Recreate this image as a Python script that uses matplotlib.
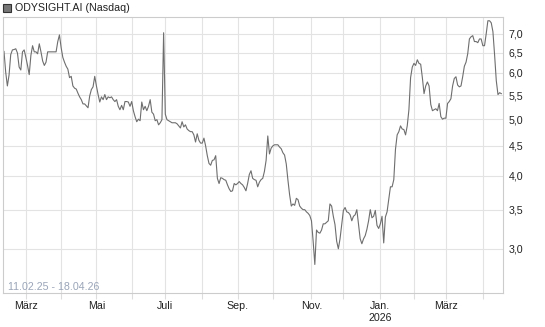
import numpy as np
import pandas as pd
import matplotlib
matplotlib.use("Agg")
import matplotlib.pyplot as plt
from matplotlib.ticker import FixedLocator, NullLocator, FuncFormatter
from matplotlib.patches import Rectangle

plt.rcParams['font.family'] = ['Liberation Sans', 'DejaVu Sans']

title = "ODYSIGHT.AI (Nasdaq)"
range_label = "11.02.25 - 18.04.26"

# Nasdaq holidays inside the range (x axis runs on trading days)
holidays = ["2025-02-17", "2025-04-18", "2025-05-26", "2025-06-19", "2025-07-04",
            "2025-09-01", "2025-11-27", "2025-12-25", "2026-01-01", "2026-01-19",
            "2026-02-16", "2026-04-03"]
month_names = {1: "Jan.", 3: "März", 5: "Mai", 7: "Juli", 9: "Sep.", 11: "Nov."}
y_ticks = [3.0, 3.5, 4.0, 4.5, 5.0, 5.5, 6.0, 6.5, 7.0]

# daily closes, one list per month
feb25 = [6.53, 6.02, 5.70, 5.95, 6.45, 6.57, 6.58, 6.60, 6.49, 6.14, 6.07, 6.52, 6.57]
mar25 = [6.38, 6.18, 5.96, 6.43, 6.68, 6.52, 6.52, 6.47, 6.73, 6.52, 6.29, 6.18, 6.26,
         6.52, 6.52, 6.52, 6.52, 6.52, 6.52, 6.79, 6.97]
apr25 = [6.63, 6.38, 6.26, 6.16, 6.09, 5.89, 5.92, 5.70, 5.65, 5.63, 5.54, 5.46, 5.40,
         5.31, 5.31, 5.27, 5.23, 5.48, 5.62, 5.68, 5.92]
may25 = [5.70, 5.51, 5.35, 5.46, 5.40, 5.51, 5.40, 5.46, 5.44, 5.46, 5.40, 5.36, 5.40,
         5.26, 5.19, 5.28, 5.19, 5.36, 5.36, 5.35, 5.26]
jun25 = [5.36, 5.17, 5.05, 4.95, 5.00, 4.97, 5.35, 5.19, 5.26, 5.17, 5.26, 5.40, 5.14,
         5.10, 4.97, 4.99, 4.89, 4.93, 4.99, 7.03]
jul25 = [5.10, 4.99, 4.97, 4.95, 4.93, 4.93, 4.93, 4.91, 4.87, 4.83, 4.95, 4.85, 4.89,
         4.81, 4.78, 4.76, 4.76, 4.70, 4.57, 4.72, 4.60, 4.55]
aug25 = [4.55, 4.64, 4.50, 4.33, 4.20, 4.17, 4.25, 4.26, 4.33, 3.96, 3.88, 3.97, 3.96,
         3.94, 3.93, 3.86, 3.80, 3.76, 3.77, 3.88, 3.86]
sep25 = [3.88, 3.91, 3.88, 3.86, 3.82, 3.77, 3.88, 4.02, 4.08, 3.96, 3.94, 3.93, 3.83,
         3.90, 3.94, 3.96, 4.07, 4.25, 4.68, 4.36, 4.46]
oct25 = [4.50, 4.52, 4.52, 4.52, 4.48, 4.45, 4.38, 4.34, 4.19, 3.93, 3.71, 3.55, 3.58,
         3.56, 3.66, 3.64, 3.55, 3.52, 3.50, 3.50, 3.47, 3.45, 3.42]
nov25 = [3.35, 3.09, 2.82, 3.23, 3.20, 3.19, 3.23, 3.31, 3.31, 3.33, 3.35, 3.58, 3.55,
         3.41, 3.30, 3.09, 3.00, 3.12, 3.30]
dec25 = [3.49, 3.53, 3.47, 3.46, 3.43, 3.35, 3.41, 3.43, 3.50, 3.31, 3.12, 3.06, 3.12,
         3.16, 3.24, 3.35, 3.50, 3.39, 3.41, 3.49, 3.29, 3.25]
jan26 = [3.31, 3.41, 3.07, 3.40, 3.47, 3.64, 3.83, 3.83, 3.94, 4.44, 4.70, 4.76, 4.87,
         4.81, 4.80, 4.70, 4.87, 5.19, 5.89, 6.14]
feb26 = [6.23, 6.18, 6.32, 6.23, 6.21, 5.89, 5.53, 5.70, 5.79, 5.70, 5.30, 5.17, 5.19,
         5.21, 5.17, 5.32, 5.05, 5.00, 5.02]
mar26 = [5.02, 5.32, 5.36, 5.42, 5.70, 5.87, 5.91, 5.72, 5.68, 5.70, 5.91, 6.16, 6.26,
         6.47, 6.86, 6.92, 6.95, 6.79, 6.79, 6.76, 6.86, 6.86]
apr26 = [6.68, 6.68, 7.00, 7.37, 7.37, 7.31, 7.06, 6.44, 5.82, 5.51, 5.55, 5.53]

prices = (feb25 + mar25 + apr25 + may25 + jun25 + jul25 + aug25 + sep25 + oct25
          + nov25 + dec25 + jan26 + feb26 + mar26 + apr26)

days = pd.bdate_range("2025-02-11", "2026-04-17")
days = days[~days.isin(pd.to_datetime(holidays))]
days = days[:len(prices)]
x = np.arange(len(days))

# first trading day of each month -> gridline, every other month gets a label
month_start = [i for i in range(1, len(days)) if days[i].month != days[i - 1].month]
labels = []
for i in month_start:
    lab = month_names.get(days[i].month, "")
    if days[i].month == 1:
        lab += "\n" + str(days[i].year)
    labels.append(lab)

fs = 7.7
fig = plt.figure(figsize=(5.45, 3.27), dpi=100)
ax = fig.add_axes([3 / 545, 1 - 293 / 327, 500 / 545, 276 / 327])

ax.plot(x, prices, color="#6e6e6e", lw=0.8)

ax.set_yscale("log")
ax.set_ylim(2.52, 7.48)
ax.set_xlim(-0.6, len(days))
ax.yaxis.set_major_locator(FixedLocator(y_ticks))
ax.yaxis.set_minor_locator(NullLocator())
ax.yaxis.set_major_formatter(FuncFormatter(lambda v, p: f"{v:.1f}".replace(".", ",")))
ax.yaxis.tick_right()
ax.set_xticks(month_start)
ax.set_xticklabels(labels)
ax.xaxis.set_minor_locator(NullLocator())

ax.grid(True, color="#e3e3e3", lw=0.8)
ax.set_axisbelow(True)
ax.tick_params(axis="x", length=4, color="#dddddd", labelsize=fs, labelcolor="#222222", pad=2)
ax.tick_params(axis="y", length=0, labelsize=fs, labelcolor="#222222", pad=4)
for s in ax.spines.values():
    s.set_color("#cccccc")
    s.set_linewidth(0.8)

ax.text(0.01, 0.005, range_label, transform=ax.transAxes, fontsize=fs,
        color="#9aa5b8", ha="left", va="bottom")

# legend square + title
fig.patches.append(Rectangle((3 / 545, 1 - 12 / 327), 8 / 545, 8 / 327,
                             transform=fig.transFigure, facecolor="#777777",
                             edgecolor="#333333", lw=0.8))
fig.text(15 / 545, 1 - 8 / 327, title, fontsize=fs, color="#222222", va="center", ha="left")

fig.savefig("out.png", dpi=100)
